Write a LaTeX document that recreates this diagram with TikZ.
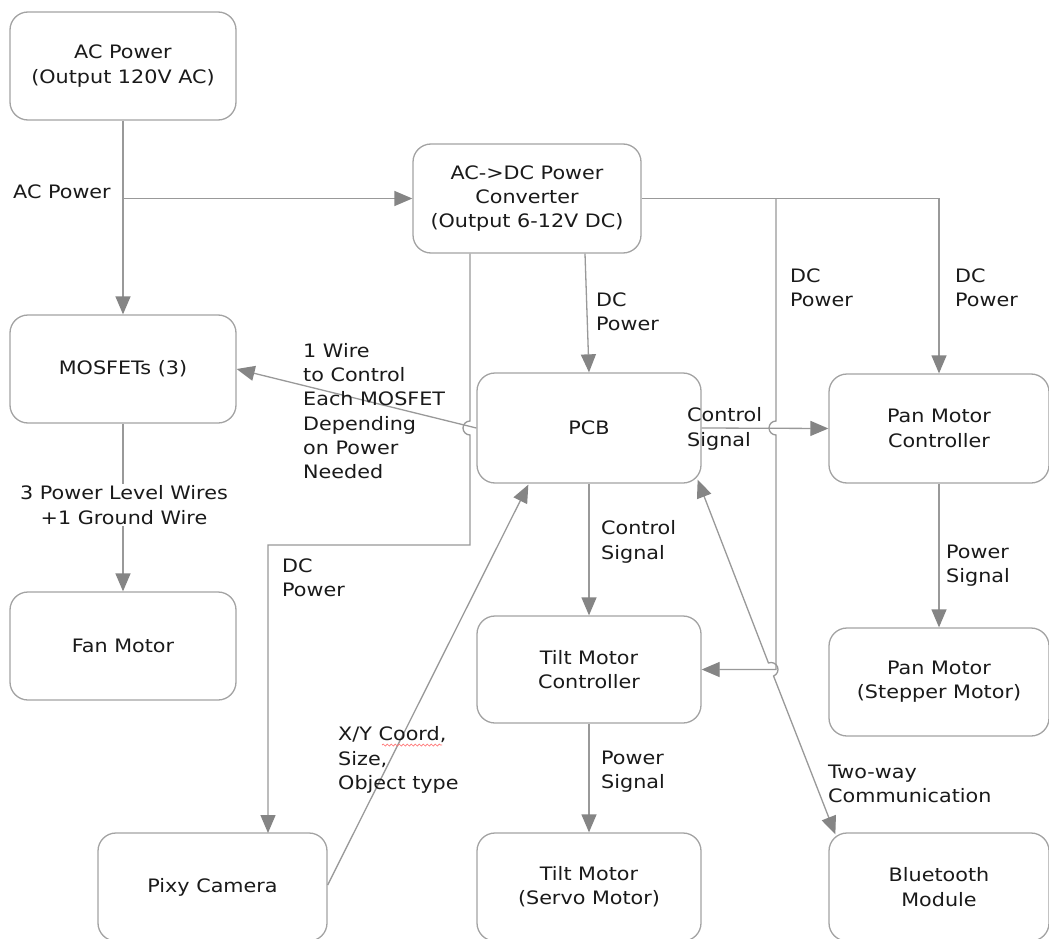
\documentclass[tikz,border=0pt]{standalone}
\usepackage{fontspec}
\setmainfont{DejaVu Sans}[FakeStretch=1.12]
\usetikzlibrary{arrows.meta,calc,decorations.pathmorphing}
\definecolor{boxgray}{HTML}{A3A3A3}
\definecolor{linegray}{HTML}{999999}
\definecolor{arrgray}{HTML}{858585}
\definecolor{txt}{HTML}{1A1A1A}
\newcommand\fsz{\fontsize{18.5}{24.3}\selectfont}
\tikzset{
  every node/.style={font=\fsz, text=txt},
  box/.style={draw=boxgray, line width=1.3pt, rounded corners=18pt, fill=white,
    minimum width=226pt, minimum height=108pt, inner sep=0pt, align=center},
  lbl/.style={align=left, anchor=west, inner sep=0pt},
  conn/.style={draw=linegray, line width=1.3pt, -{Triangle[length=18pt,width=15pt,color=arrgray]}},
  bconn/.style={draw=linegray, line width=1.3pt, {Triangle[length=18pt,width=15pt,color=arrgray]}-{Triangle[length=18pt,width=15pt,color=arrgray]}},
  plain/.style={draw=linegray, line width=1.3pt},
}
\begin{document}
\begin{tikzpicture}[x=1pt,y=-1pt]
\useasboundingbox (0,0) rectangle (1049,939);
\clip (0,0) rectangle (1049,939);
\fill[white] (0,0) rectangle (1049,939);

% boxes
\node[box] (ac) at (123,66) {AC Power\\(Output 120V AC)};
\node[box, minimum width=228pt, minimum height=109pt] (conv) at (527,198.5) {AC->DC Power\\Converter\\(Output 6-12V DC)};
\node[box] (mos) at (123,369) {MOSFETs (3)};
\node[box] (fan) at (123,646) {Fan Motor};
\node[box, minimum width=224pt, minimum height=110pt] (pcb) at (589,428) {PCB};
\node[box, minimum width=220pt, minimum height=109pt] (panc) at (939,428.5) {Pan Motor\\Controller};
\node[box, minimum width=224pt, minimum height=107pt] (tiltc) at (589,669.5) {Tilt Motor\\Controller};
\node[box, minimum width=224pt] (tilt) at (589,887) {Tilt Motor\\(Servo Motor)};
\node[box, minimum width=229pt] (pixy) at (212.5,887) {Pixy Camera};
\node[box, minimum width=220pt] (pan) at (939,682) {Pan Motor\\(Stepper Motor)};
\node[box, minimum width=220pt] (bt) at (939,887) {Bluetooth\\Module};

% helper coordinates
\coordinate (j1) at (ac.south |- conv.west);
\coordinate (j2) at (776,198.5);
\coordinate (h2a) at (776,421);
\coordinate (h2b) at (776,435);
\coordinate (k2) at (776,669.5);
\coordinate (cs) at ($(conv.south)+(58,0)$);
\coordinate (cl) at ($(conv.south)+(-57,0)$);
\coordinate (h1a) at (470,421);
\coordinate (h1b) at (470,435);
\coordinate (d1) at (470,545);
\coordinate (d2) at (268,545);
\coordinate (pixtop) at (268,833);
\coordinate (pixr) at ($(pixy.east)+(0,-2)$);
\coordinate (pcbbl) at ($(pcb.south west)+(52,1)$);
\coordinate (pcbbr) at ($(pcb.south east)+(-4,-4)$);
\coordinate (bttl) at ($(bt.north west)+(7,2)$);

% connectors
\draw[conn] (ac.south) -- (mos.north);
\draw[conn] (j1) -- (conv.west);
\draw[conn] (conv.east) -| (panc.north);
\draw[conn] (j2) -- (h2a) arc[start angle=270, end angle=90, radius=7] -- (k2) -- (tiltc.east);
\draw[conn] (cs) -- (pcb.north);
\draw[conn] (cl) -- (h1a) arc[start angle=270, end angle=90, radius=7] -- (d1) -- (d2) -- (pixtop);
\draw[conn] (pcb.west) -- (mos.east);
\draw[conn] (mos.south) -- (fan.north);
\draw[conn] (pcb.east) -- (panc.west);
\draw[conn] (pcb.south) -- (tiltc.north);
\draw[conn] (tiltc.south) -- (tilt.north);
\draw[conn] (panc.south) -- (pan.north);
\draw[conn] (pixr) -- (pcbbl);
% two-way with hop at crossing (771,669.5)
\coordinate (hb1) at ($(771,669.5)+(248.6:7)$);
\draw[bconn] (pcbbr) -- (hb1) arc[start angle=248.6, end angle=428.6, radius=7] -- (bttl);

% labels
\node[lbl] (lac) at (13,192) {AC Power};
\node[lbl] (ldc1) at (955,288) {DC\\Power};
\node[lbl] (ldc2) at (790,288) {DC\\Power};
\node[lbl] (ldc3) at (596,312) {DC\\Power};
\node[lbl] (ldc4) at (282,578) {DC\\Power};
\node[lbl] (lwire) at (303,411) {1 Wire\\to Control\\Each MOSFET\\Depending\\on Power\\Needed};
\node[lbl] (lcs1) at (687,429) {Control\\Signal};
\node[lbl] (lcs2) at (601,542) {Control\\Signal};
\node[lbl] (lps1) at (601,772) {Power\\Signal};
\node[lbl] (lps2) at (946,566) {Power\\Signal};
\node[lbl] (lxy) at (338,760) {X/Y Coord,\\Size,\\Object type};
\node[lbl] (ltw) at (828,784) {Two-way\\Communication};
\node[align=center, fill=white, inner sep=2pt] (lpw) at (124,505) {3 Power Level Wires\\+1 Ground Wire};
\draw[red!55, line width=0.7pt, decorate, decoration={snake, amplitude=1pt, segment length=4pt}] (382,745) -- (442,745);
\end{tikzpicture}
\end{document}
